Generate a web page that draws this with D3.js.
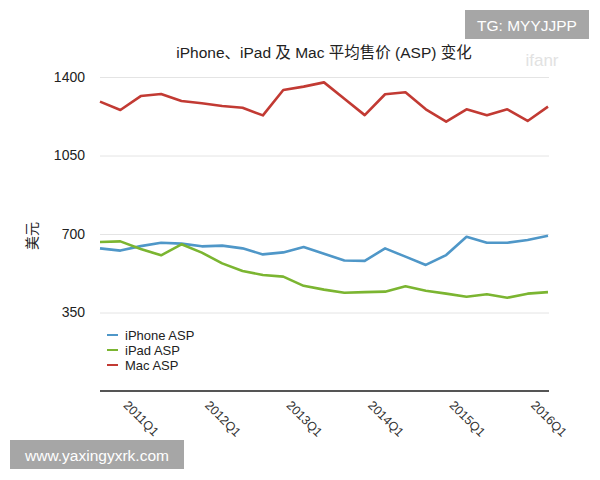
<!DOCTYPE html>
<html>
<head>
<meta charset="utf-8">
<script src="https://cdn.jsdelivr.net/npm/d3@7"></script>
<style>
  body { margin: 0; background: #fff; }
  svg { display: block; font-family: "Liberation Sans", Arial, "Noto Sans CJK SC", sans-serif; }
</style>
</head>
<body>
<svg id="chart" width="600" height="480"></svg>
<script>
// quarters, 2010Q4 .. 2016Q2
const quarters = ["2010Q4",
  "2011Q1", "2011Q2", "2011Q3", "2011Q4",
  "2012Q1", "2012Q2", "2012Q3", "2012Q4",
  "2013Q1", "2013Q2", "2013Q3", "2013Q4",
  "2014Q1", "2014Q2", "2014Q3", "2014Q4",
  "2015Q1", "2015Q2", "2015Q3", "2015Q4",
  "2016Q1", "2016Q2"];
const tickLabels = ["2011Q1", "2012Q1", "2013Q1", "2014Q1", "2015Q1", "2016Q1"];
const yTicks = [350, 700, 1050, 1400];

const iphoneASP = [636, 626, 646, 661, 657, 645, 648, 636, 609, 618, 642, 612,
  582, 580, 636, 599, 562, 606, 688, 661, 661, 673, 692];
const ipadASP = [664, 667, 633, 605, 654, 617, 569, 535, 517, 510, 469, 452,
  438, 441, 443, 467, 447, 434, 420, 431, 416, 434, 441];
const macASP = [1290, 1253, 1315, 1324, 1293, 1283, 1271, 1263, 1229, 1342, 1357, 1376,
  1303, 1230, 1323, 1332, 1256, 1201, 1256, 1230, 1256, 1204, 1268];

const series = [
  { name: "iPhone ASP", values: iphoneASP, color: "#4f97c8" },
  { name: "iPad ASP", values: ipadASP, color: "#7bb531" },
  { name: "Mac ASP", values: macASP, color: "#c23a33" }
];

const svg = d3.select("#chart");
const plotLeft = 100, plotRight = 548, plotTop = 77, plotBottom = 391;

const x = d3.scalePoint().domain(quarters).range([plotLeft, plotRight]);
const y = d3.scaleLinear().domain([0, 1400]).range([plotBottom, plotTop]);

// title
svg.append("text")
  .attr("x", 324).attr("y", 58)
  .attr("text-anchor", "middle")
  .attr("font-size", 15.5)
  .attr("fill", "#222")
  .text("iPhone、iPad 及 Mac 平均售价 (ASP) 变化");

// gridlines + y labels
const yAxis = d3.axisLeft(y).tickValues(yTicks).tickFormat(d3.format("d"))
  .tickSize(-(plotRight - plotLeft + 1)).tickPadding(15);
const gy = svg.append("g").attr("transform", `translate(${plotLeft},0)`).call(yAxis);
gy.select(".domain").remove();
gy.selectAll(".tick line").attr("stroke", "#e4e4e4").attr("stroke-width", 1);
gy.selectAll(".tick text")
  .attr("font-size", 14)
  .attr("fill", "#222")
  .attr("font-family", "Liberation Sans, Arial, sans-serif");

// y title
svg.append("text")
  .attr("transform", "translate(37,236) rotate(-90)")
  .attr("text-anchor", "middle")
  .attr("font-size", 14)
  .attr("fill", "#222")
  .text("美元");

// x axis
const xAxis = d3.axisBottom(x).tickValues(tickLabels).tickSize(0).tickPadding(0);
const gx = svg.append("g").attr("transform", `translate(0,${plotBottom})`).call(xAxis);
gx.select(".domain").remove();
gx.selectAll(".tick text")
  .attr("font-size", 12.5)
  .attr("fill", "#333")
  .attr("text-anchor", "start")
  .attr("dy", 0)
  .attr("y", 0)
  .attr("transform", "translate(2,15) rotate(45)");

svg.append("line")
  .attr("x1", plotLeft).attr("x2", plotRight + 1)
  .attr("y1", plotBottom).attr("y2", plotBottom)
  .attr("stroke", "#555").attr("stroke-width", 2);

// lines
const line = d3.line()
  .x((d, i) => x(quarters[i]))
  .y(d => y(d));

svg.append("g").selectAll("path")
  .data(series)
  .join("path")
  .attr("fill", "none")
  .attr("stroke", d => d.color)
  .attr("stroke-width", 2.6)
  .attr("stroke-linejoin", "round")
  .attr("d", d => line(d.values));

// legend
const legend = svg.append("g").selectAll("g")
  .data(series)
  .join("g")
  .attr("transform", (d, i) => `translate(107,${335 + i * 15})`);
legend.append("line")
  .attr("x1", 0).attr("x2", 11)
  .attr("stroke", d => d.color)
  .attr("stroke-width", 2);
legend.append("text")
  .attr("x", 18).attr("y", 4.5)
  .attr("font-size", 13)
  .attr("fill", "#222")
  .text(d => d.name);

// watermarks
svg.append("text")
  .attr("x", 542).attr("y", 66)
  .attr("text-anchor", "middle")
  .attr("font-size", 17)
  .attr("fill", "#e2e2e2")
  .text("ifanr");

svg.append("rect")
  .attr("x", 465).attr("y", 10)
  .attr("width", 124).attr("height", 29)
  .attr("fill", "#a6a6a6");
svg.append("text")
  .attr("x", 527).attr("y", 30.5)
  .attr("text-anchor", "middle")
  .attr("font-size", 15.5)
  .attr("fill", "#fff")
  .text("TG: MYYJJPP");

svg.append("rect")
  .attr("x", 10).attr("y", 440)
  .attr("width", 174).attr("height", 29)
  .attr("fill", "#a6a6a6");
svg.append("text")
  .attr("x", 97).attr("y", 460.5)
  .attr("text-anchor", "middle")
  .attr("font-size", 15.5)
  .attr("fill", "#fff")
  .text("www.yaxingyxrk.com");
</script>
</body>
</html>
